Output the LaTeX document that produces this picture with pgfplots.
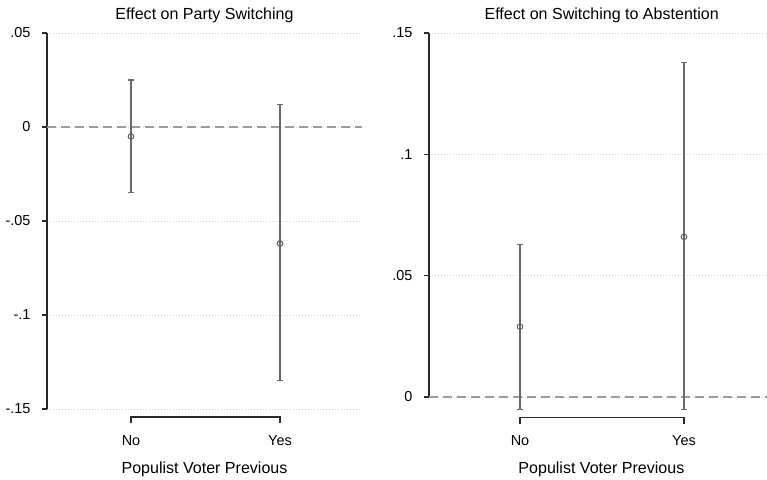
\documentclass[border=0pt]{standalone}
\usepackage{fontspec}
\setmainfont{Liberation Sans}
\usepackage{pgfplots}
\pgfplotsset{compat=1.18}
\definecolor{bargray}{HTML}{6A6A6A}
\definecolor{markgray}{HTML}{606060}
\definecolor{zerogray}{HTML}{9C9C9C}
\definecolor{gridgray}{HTML}{D0D0D0}
\definecolor{axisdark}{HTML}{2A2A2A}
\pgfplotsset{
  stata/.style={
    scale only axis,
    clip=false,
    axis y line=left,
    axis x line=bottom,
    x axis line style={draw=none},
    y axis line style={axisdark, line width=1.4bp, -},
    xtick={0,1},
    xticklabels={No,Yes},
    xtick style={draw=none},
    ytick style={axisdark, line width=1.1bp},
    major tick length=5bp,
    tick align=outside,
    ymajorgrids,
    grid style={gridgray, line width=0.8bp, dash pattern=on 0.8bp off 2.2bp},
    tick label style={font=\fontsize{14.5}{17}\selectfont},
    yticklabel style={anchor=east, xshift=-8bp},
    title style={font=\fontsize{16.1}{19}\selectfont, at={(0.5,1)}, anchor=base, yshift=8bp},
    xlabel style={font=\fontsize{16.1}{19}\selectfont, anchor=base},
  },
  cibar/.style={
    only marks, mark=o, mark size=2.8bp,
    mark options={solid, markgray, line width=1bp},
    color=bargray,
    error bars/.cd, y dir=both, y explicit,
    error bar style={bargray, line width=1.2bp},
    error mark options={rotate=90, bargray, line width=1.2bp, mark size=2.8bp},
  },
  zeroline/.style={zerogray, line width=1.3bp, dash pattern=on 9bp off 5bp, forget plot},
}
\begin{document}
\begin{tikzpicture}
\useasboundingbox (0,0) rectangle (767bp,480bp);
% Left panel
\begin{axis}[stata,
  at={(47bp,71bp)}, anchor=south west,
  width=315bp, height=376bp,
  xmin=-0.5638, xmax=1.5503,
  ymin=-0.15, ymax=0.05,
  ytick={-0.15,-0.1,-0.05,0,0.05},
  yticklabels={-.15,-.1,-.05,0,.05},
  xticklabel style={anchor=base, yshift=-31bp},
  title={Effect on Party Switching},
  xlabel={Populist Voter Previous},
  xlabel style={at={(axis description cs:0.5,-0.1720)}},
]
\addplot[zeroline] coordinates {(-0.5638,0) (1.5503,0)};
\addplot[cibar] coordinates {
  (0,-0.005) +=(0,0.030) -=(0,0.030)
  (1,-0.062) +=(0,0.074) -=(0,0.073)
};
\draw[axisdark, line width=1.4bp] (axis cs:0,-0.15719) -- (axis cs:0,-0.15426) -- (axis cs:1,-0.15426) -- (axis cs:1,-0.15719);
\end{axis}
% Right panel
\begin{axis}[stata,
  at={(429bp,83bp)}, anchor=south west,
  width=338bp, height=364bp,
  xmin=-0.5549, xmax=1.5061,
  ymin=0, ymax=0.15,
  ytick={0,0.05,0.1,0.15},
  yticklabels={0,.05,.1,.15},
  xticklabel style={anchor=base, yshift=-43bp},
  title={Effect on Switching to Abstention},
  title style={xshift=3.7bp},
  xlabel={Populist Voter Previous},
  xlabel style={at={(axis description cs:0.51,-0.2115)}},
]
\addplot[zeroline] coordinates {(-0.5549,0) (1.5061,0)};
\addplot[cibar] coordinates {
  (0,0.029) +=(0,0.034) -=(0,0.034)
  (1,0.066) +=(0,0.072) -=(0,0.071)
};
\draw[axisdark, line width=1.4bp] (axis cs:0,-0.0110) -- (axis cs:0,-0.00853) -- (axis cs:1,-0.00853) -- (axis cs:1,-0.0110);
\end{axis}
\end{tikzpicture}
\end{document}
